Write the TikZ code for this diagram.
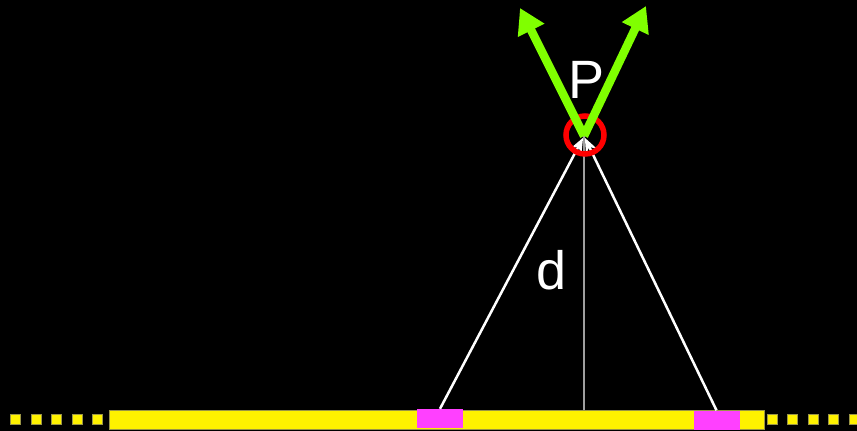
\documentclass[tikz,border=0pt]{standalone}
\usepackage{fontspec}
\setmainfont{Liberation Sans}
\usetikzlibrary{arrows.meta,positioning}
\definecolor{padpink}{HTML}{FF40FF}
\definecolor{vecgreen}{HTML}{80FF00}

\begin{document}
\begin{tikzpicture}[x=1pt,y=-1pt,
    sensor/.style={fill=padpink,minimum width=46pt,minimum height=19pt,inner sep=0pt},
    wiredot/.style={fill=yellow,draw=yellow!55!black,line width=0.6pt,minimum size=10pt,inner sep=0pt},
    ray/.style={white,line width=2.5pt,shorten >=2pt,-{Stealth[length=15pt,width=12pt]}},
    vec/.style={vecgreen,line width=8.5pt,-{Triangle[length=25pt,width=28pt]}},
    bigtext/.style={white,font=\fontsize{54}{54}\selectfont}]
    \useasboundingbox (0,0) rectangle (857,431);
    \fill[black] (0,0) rectangle (857,431);
    % wire
    \filldraw[fill=yellow,draw=yellow!55!black,line width=0.6pt] (109.5,410) rectangle (764,429);
    \foreach \x in {15.5,36,56.5,77,97.5}{\node[wiredot] at (\x,419) {};}
    \foreach \x in {772,792.5,813,833.5,854}{\node[wiredot] at (\x,419) {};}
    \node[sensor] (s1) at (440,418.5) {};
    \node[sensor] (s2) at (716.5,420) {};
    % point P
    \coordinate (P) at (584,136);
    \coordinate (base) at (584,410);
    \coordinate (tipL) at (520,8);
    \coordinate (tipR) at (646,6);
    \draw[gray!75,line width=1.5pt] (P) -- (base);
    \draw[ray] (s1.north) -- (P);
    \draw[ray] (s2.north) -- (P);
    \draw[red,line width=5.5pt] (585,135) circle (19);
    \draw[vec] (P) -- (tipL);
    \draw[vec] (P) -- (tipR);
    \node[bigtext] (plabel) at (587,80) {P};
    \node[bigtext] (dlabel) at (552,270) {d};
\end{tikzpicture}
\end{document}
